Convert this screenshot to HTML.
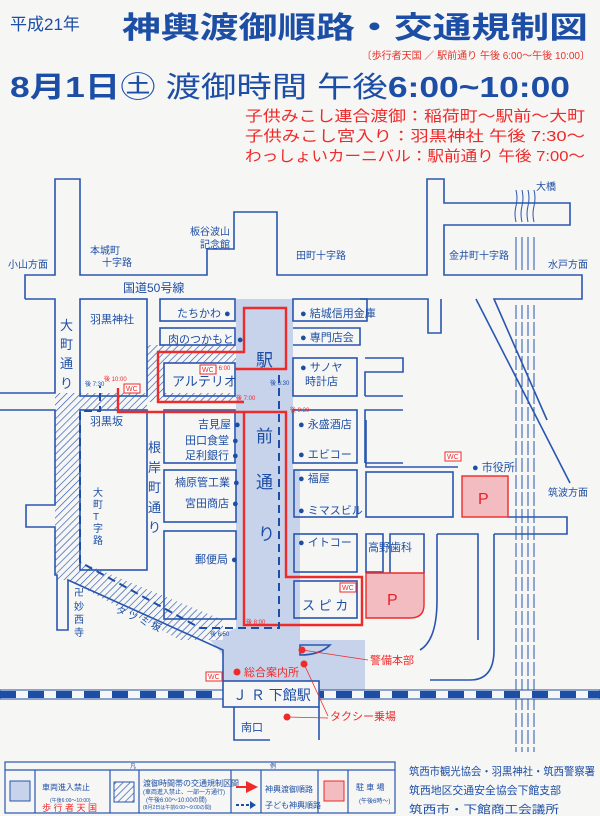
<!DOCTYPE html>
<html><head><meta charset="utf-8"><style>
html,body{margin:0;padding:0;background:#f6f6f4;}
svg{display:block}
text{font-family:"Liberation Sans","Noto Sans CJK JP",sans-serif;}
</style></head><body>
<svg width="600" height="816" viewBox="0 0 600 816" xmlns="http://www.w3.org/2000/svg">
<defs>
<pattern id="h" width="5" height="5" patternUnits="userSpaceOnUse" patternTransform="rotate(45)">
<rect width="5" height="5" fill="#f6f6f4"/><line x1="0" y1="0" x2="0" y2="5" stroke="#2a56b0" stroke-width="1.3"/></pattern>
<marker id="ar" markerWidth="6" markerHeight="6" refX="3" refY="3" orient="auto"><path d="M0,0 L6,3 L0,6z" fill="#ee2a2a"/></marker>
</defs>
<rect width="600" height="816" fill="#f6f6f4"/>
<text x="10" y="30" font-size="17" fill="#1d4ea6">平成21年</text>
<text x="122" y="38" font-size="30" font-weight="bold" fill="#1d4ea6" textLength="466" lengthAdjust="spacingAndGlyphs">神輿渡御順路・交通規制図</text>
<text x="590" y="59" font-size="10" fill="#e8302a" text-anchor="end">〔歩行者天国 ／ 駅前通り 午後 6:00〜午後 10:00〕</text>
<text x="10" y="97" font-size="29" fill="#1d4ea6" textLength="560" lengthAdjust="spacingAndGlyphs"><tspan font-weight="bold">8月1日</tspan>㊏ 渡御時間 午後<tspan font-weight="bold">6:00~10:00</tspan></text>
<g font-size="15" fill="#ee2a2a">
<text x="245" y="121" textLength="340" lengthAdjust="spacingAndGlyphs">子供みこし連合渡御：稲荷町〜駅前〜大町</text>
<text x="245" y="141" textLength="340" lengthAdjust="spacingAndGlyphs">子供みこし宮入り：羽黒神社 午後 7:30〜</text>
<text x="245" y="161" textLength="340" lengthAdjust="spacingAndGlyphs">わっしょいカーニバル：駅前通り 午後 7:00〜</text>
</g>
<path d="M236,299 H293 V470 H300 V640 H365 V690 H319 V681 H223 V655 L210,640 L236,628 Z" fill="#c6d3ea"/>
<path d="M55,393 H236 V402 H147 V410 H80 V562 L223,620 V640 L180,640 L68,580 H55 Z" fill="url(#h)"/>
<path d="M147,345 H236 V363 H164 V396 H147 Z" fill="url(#h)"/>
<g fill="none" stroke="#2a56b0" stroke-width="1.6">
<path d="M25,299 V275 H55 V179 H80 V275 H207 V249 H234 V212 H277 V275 H427 V179 H444 V203 H570 V225 H444 V275 H582 V299 H494 L547,420 M476,299 L570,483 M441,299 V333 H428 V299 H360 M25,299 H55 V393 H0 M0,410 H55 V505 H26 V527 H55 V575 H57 V630 H68 V580 L223,650 V681"/>
<rect x="80" y="299" width="67" height="97"/>
<rect x="160" y="299" width="75" height="22"/>
<rect x="160" y="328" width="75" height="17"/>
<rect x="164" y="363" width="71" height="33"/>
<rect x="293" y="299" width="74" height="22"/>
<path d="M293,328 H360 V345 H293"/>
<rect x="293" y="358" width="64" height="38"/>
<path d="M365,358 H403 V372 H365 V396 M403,396 H365"/>
<rect x="80" y="410" width="67" height="160"/>
<rect x="164" y="410" width="71" height="53"/>
<rect x="293" y="410" width="64" height="53"/>
<path d="M365,463 V410 H403 M403,463 H365"/>
<rect x="164" y="470" width="72" height="52"/>
<rect x="164" y="531" width="72" height="88"/>
<rect x="294" y="470" width="63" height="47"/>
<rect x="366" y="472" width="87" height="45"/>
<rect x="294" y="534" width="63" height="38"/>
<rect x="366" y="534" width="17" height="38"/>
<path d="M390,573 V534 H424 V573"/>
<rect x="294" y="581" width="63" height="37"/>
<path d="M437,534 H478 V640 M494,534 H567 V517 H508 M437,534 V600 Q437,640 420,650 M458,467 H366 V420"/>
<path d="M494,534 V650 Q494,680 470,680 H430"/>
<path d="M300,645 H330 Q320,655 300,655 Z"/>
<path d="M234,707 V740 H270 M319,707 V740"/>
</g>
<g stroke="#2a56b0" stroke-width="1" fill="none">
<path d="M516,190 q2,8 0,16 q-2,8 0,16 M522,190 q2,8 0,16 q-2,8 0,16 M528,190 q2,8 0,16 q-2,8 0,16 M534,190 q2,8 0,16 q-2,8 0,16"/>
<path d="M516,237 V270 M522,237 V270 M528,237 V270 M534,237 V270"/>
<path d="M516,305 V752 M522,305 V752 M528,305 V752 M534,305 V752" stroke-dasharray="14 3"/>
</g>
<rect x="0" y="690" width="600" height="9" fill="#f6f6f4" stroke="#1d4ea6" stroke-width="1"/>
<line x1="0" y1="694.5" x2="600" y2="694.5" stroke="#1d4ea6" stroke-width="7" stroke-dasharray="16 12"/>
<rect x="223" y="681" width="96" height="26" fill="#f6f6f4" stroke="#2a56b0" stroke-width="1.6"/>
<path d="M366,573 H390 V573 H424 V605 Q424,618 410,618 H366 Z" fill="#f2bcc0" stroke="#ee2a2a" stroke-width="1.4"/>
<rect x="462" y="476" width="46" height="41" fill="#f2bcc0" stroke="#ee2a2a" stroke-width="1.4"/>
<text x="387" y="605" font-size="16" fill="#e8202a">P</text>
<text x="478" y="504" font-size="16" fill="#e8202a">P</text>
<g fill="none" stroke="#ee2a2a" stroke-width="2.4">
<path d="M235,369 H286 V308 H244 V352 H158 V402 H244"/>
<path d="M118,388 V412 H286 V577 H362 V625 H244 V412"/>
</g>
<path d="M279,375 V628 H200 L80,562 V411 H100 V386" fill="none" stroke="#1d4ea6" stroke-width="2" stroke-dasharray="8 5"/>
<g font-size="10" fill="#1d4ea6">
<text x="536" y="190">大橋</text>
<text x="8" y="268">小山方面</text>
<text x="548" y="268">水戸方面</text>
<text x="90" y="254">本城町</text><text x="102" y="266">十字路</text>
<text x="190" y="235">板谷波山</text><text x="200" y="248">記念館</text>
<text x="296" y="259">田町十字路</text>
<text x="449" y="259">金井町十字路</text>
<text x="123" y="292" font-size="12">国道50号線</text>
<text x="548" y="496">筑波方面</text>
<text x="177" y="317" font-size="11">たちかわ ●</text>
<text x="168" y="343" font-size="11">肉のつかもと ●</text>
<text x="300" y="317" font-size="11">● 結城信用金庫</text>
<text x="300" y="341" font-size="11">● 専門店会</text>
<text x="300" y="371" font-size="11">● サノヤ</text><text x="305" y="385" font-size="11">時計店</text>
<text x="172" y="386" font-size="13">アルテリオ</text>
<text x="90" y="323" font-size="11">羽黒神社</text>
<text x="90" y="425" font-size="11">羽黒坂</text>
<text x="198" y="428" font-size="11">吉見屋 ●</text>
<text x="185" y="444" font-size="11">田口食堂 ●</text>
<text x="185" y="459" font-size="11">足利銀行 ●</text>
<text x="175" y="486" font-size="11">楠原管工業 ●</text>
<text x="185" y="507" font-size="11">宮田商店 ●</text>
<text x="195" y="563" font-size="11">郵便局 ●</text>
<text x="298" y="428" font-size="11">● 永盛酒店</text>
<text x="298" y="458" font-size="11">● エビコー</text>
<text x="298" y="482" font-size="11">● 福屋</text>
<text x="298" y="514" font-size="11">● ミマスビル</text>
<text x="298" y="546" font-size="11">● イトコー</text>
<text x="368" y="551" font-size="11">高野歯科</text>
<text x="302" y="610" font-size="13">ス ピ カ</text>
<text x="472" y="471" font-size="11">● 市役所</text>
<text x="256" y="366" font-size="17">駅</text>
<text x="256" y="442" font-size="17">前</text>
<text x="256" y="488" font-size="17">通</text>
<text x="258" y="540" font-size="17">り</text>
<text x="60" y="330" font-size="13">大</text><text x="60" y="349" font-size="13">町</text><text x="60" y="368" font-size="13">通</text><text x="60" y="388" font-size="13">り</text>
<text x="148" y="452" font-size="13">根</text><text x="148" y="472" font-size="13">岸</text><text x="148" y="492" font-size="13">町</text><text x="148" y="512" font-size="13">通</text><text x="148" y="532" font-size="13">り</text>
<text x="93" y="496">大</text><text x="93" y="508">町</text><text x="93" y="520">T</text><text x="93" y="532">字</text><text x="93" y="544">路</text>
<text x="74" y="596">卍</text><text x="74" y="610">妙</text><text x="74" y="623">西</text><text x="74" y="636">寺</text>
<text x="115" y="612" transform="rotate(24 115 612)">タ ツ ミ 坂</text>
<text x="233" y="700" font-size="14">Ｊ Ｒ 下館駅</text>
<text x="241" y="731" font-size="11">南口</text>
<text x="85" y="386" font-size="6">後 7:30</text>
<text x="270" y="385" font-size="6">後 6:30</text>
<text x="210" y="636" font-size="6">後 6:50</text>
</g>
<g font-size="6" fill="#ee2a2a"><text x="104" y="381">後 10:00</text><text x="211" y="370">後 6:00</text><text x="236" y="400">後 7:00</text><text x="290" y="412">後 9:30</text><text x="246" y="624">後 8:00</text></g>
<g font-size="7" fill="#ee2a2a" stroke="none">
<rect x="200" y="365" width="16" height="9" fill="#fff" stroke="#ee2a2a"/><text x="202" y="372">WC</text>
<rect x="124" y="384" width="16" height="9" fill="#fff" stroke="#ee2a2a"/><text x="126" y="391">WC</text>
<rect x="340" y="583" width="16" height="9" fill="#fff" stroke="#ee2a2a"/><text x="342" y="590">WC</text>
<rect x="445" y="452" width="16" height="9" fill="#fff" stroke="#ee2a2a"/><text x="447" y="459">WC</text>
<rect x="206" y="672" width="16" height="9" fill="#fff" stroke="#ee2a2a"/><text x="208" y="679">WC</text>
</g>
<g fill="#ee2a2a" font-size="11"><circle cx="237" cy="672" r="3.5"/><text x="244" y="676">総合案内所</text>
<circle cx="302" cy="650" r="3.5"/><circle cx="304" cy="664" r="3.5"/><text x="370" y="664">警備本部</text>
<circle cx="287" cy="717" r="3.5"/><text x="330" y="720">タクシー乗場</text></g>
<path d="M302,650 L368,660 M304,664 L328,716 M287,717 L328,718" stroke="#ee2a2a" stroke-width="0.8"/>
<g fill="none" stroke="#2a56b0" stroke-width="1.2">
<rect x="5" y="762" width="390" height="51"/>
<line x1="5" y1="770" x2="395" y2="770"/>
<path d="M35,770V813 M110,770V813 M139,770V813 M231,770V813 M261,770V813 M318,770V813 M348,770V813"/>
</g>
<rect x="10" y="781" width="20" height="20" fill="#c6d3ea" stroke="#2a56b0"/>
<rect x="114" y="782" width="20" height="20" fill="url(#h)" stroke="#2a56b0"/>
<rect x="324" y="781" width="20" height="20" fill="#f2bcc0" stroke="#ee2a2a"/>
<g fill="#1d4ea6" font-size="6"><text x="130" y="768">凡</text><text x="270" y="768">例</text>
<text x="50" y="802" font-size="5">(午後6:00〜10:00)</text>
<text x="143" y="794">(車両進入禁止、一部一方通行)</text>
<text x="146" y="802">(午後6:00〜10:00の間)</text>
<text x="143" y="809" font-size="5">(8月2日は午前6:00〜9:00の間)</text>
<text x="359" y="803">(午後6時〜)</text></g>
<g fill="#1d4ea6" font-size="8"><text x="42" y="790">車両進入禁止</text><text x="143" y="786">渡御時間帯の交通規制区間</text>
<text x="265" y="792">神輿渡御順路</text><text x="265" y="808">子ども神輿順路</text><text x="356" y="790">駐 車 場</text></g>
<text x="42" y="811" font-size="9" fill="#ee2a2a">歩 行 者 天 国</text>
<path d="M236,787 H252" stroke="#ee2a2a" stroke-width="2" marker-end="url(#ar)"/>
<path d="M236,805 H250" stroke="#1d4ea6" stroke-width="2" stroke-dasharray="3 2"/><path d="M250,801 L256,805 L250,809z" fill="#1d4ea6"/>
<g fill="#1d4ea6" font-size="11"><text x="409" y="775" textLength="186" lengthAdjust="spacingAndGlyphs">筑西市観光協会・羽黒神社・筑西警察署</text>
<text x="409" y="794" textLength="152" lengthAdjust="spacingAndGlyphs">筑西地区交通安全協会下館支部</text>
<text x="409" y="813" textLength="150" lengthAdjust="spacingAndGlyphs">筑西市・下館商工会議所</text></g>
</svg>
</body></html>
